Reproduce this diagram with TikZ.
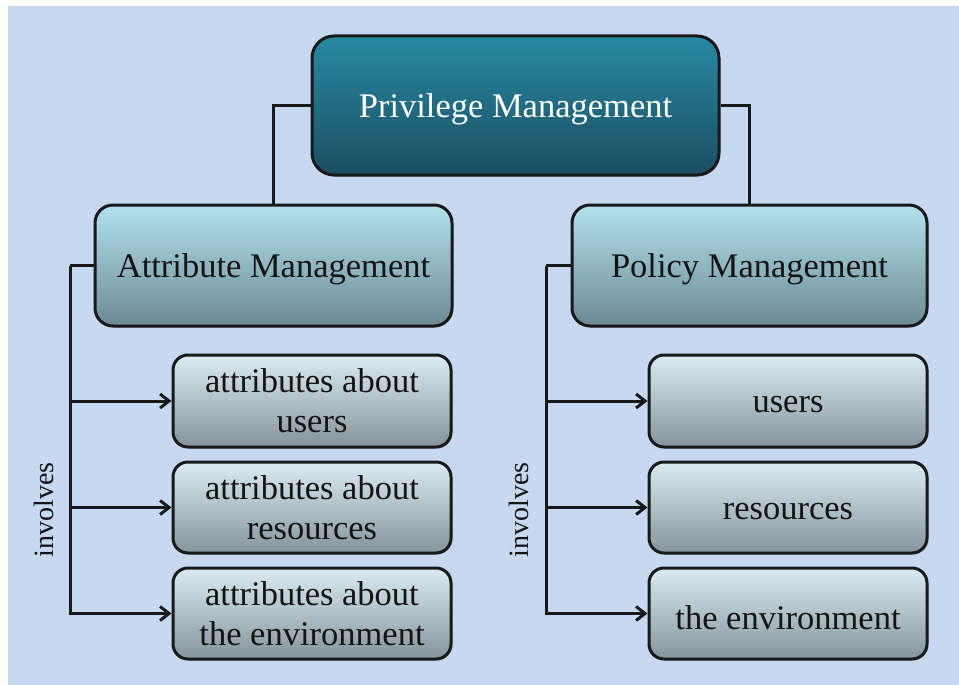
\documentclass[tikz,border=0pt]{standalone}
\usepackage{fontspec}
\setmainfont{Liberation Serif}
\usetikzlibrary{arrows.meta,shadows}
\definecolor{bgblue}{RGB}{198,217,240}
\definecolor{topT}{RGB}{40,137,163}
\definecolor{topB}{RGB}{27,78,98}
\definecolor{midT}{RGB}{178,226,236}
\definecolor{midB}{RGB}{108,138,150}
\definecolor{lowT}{RGB}{218,236,242}
\definecolor{lowB}{RGB}{132,148,154}
\definecolor{txt}{RGB}{20,20,20}
\newcommand\lowrtxt[1]{\raisebox{-4pt}[\height][\depth]{#1}}
\tikzset{
  basebox/.style={draw=black!90, line width=3pt, inner sep=0pt, align=center,
    drop shadow={opacity=0.35, shadow xshift=1.5pt, shadow yshift=-1.5pt},
    font=\fontsize{34.5}{40}\selectfont, text=txt},
  topbox/.style={basebox, rounded corners=22pt, top color=topT, bottom color=topB, text=white},
  midbox/.style={basebox, rounded corners=18pt, top color=midT, bottom color=midB},
  lowbox/.style={basebox, rounded corners=15pt, top color=lowT, bottom color=lowB},
  link/.style={line width=3pt, draw=black!90},
  arr/.style={link, -{Straight Barb[length=9pt,width=14pt]}},
  invtext/.style={rotate=90, font=\fontsize{28}{32}\selectfont, text=txt, inner sep=0pt}
}
\begin{document}
\begin{tikzpicture}[x=1pt,y=-1pt]
\useasboundingbox (0,0) rectangle (959,685);
\fill[bgblue] (8,6) rectangle (959,685);

\node[topbox, minimum width=407, minimum height=139] (pm) at (515.5,105.5) {\lowrtxt{Privilege Management}};
\node[midbox, minimum width=357, minimum height=121] (am) at (273.5,265.5) {\lowrtxt{Attribute Management}};
\node[midbox, minimum width=355, minimum height=121] (pol) at (749.5,265.5) {\lowrtxt{Policy Management}};

\node[lowbox, minimum width=278, minimum height=92] (a1) at (312,401) {attributes about\\users};
\node[lowbox, minimum width=278, minimum height=91] (a2) at (312,507.5) {attributes about\\resources};
\node[lowbox, minimum width=278, minimum height=91] (a3) at (312,613.5) {attributes about\\the environment};

\node[lowbox, minimum width=278, minimum height=92] (p1) at (788,401) {\lowrtxt{users}};
\node[lowbox, minimum width=278, minimum height=91] (p2) at (788,507.5) {\lowrtxt{resources}};
\node[lowbox, minimum width=278, minimum height=91] (p3) at (788,613.5) {\lowrtxt{the environment}};

\draw[link] (pm.west) -| (am.north);
\draw[link] (pm.east) -| (pol.north);

\draw[link] (am.west) -- (70,265.5) coordinate (lk);
\draw[arr] (lk) |- (a1.west);
\draw[arr] (lk) |- (a2.west);
\draw[arr] (lk) |- (a3.west);

\draw[link] (pol.west) -- (546,265.5) coordinate (rk);
\draw[arr] (rk) |- (p1.west);
\draw[arr] (rk) |- (p2.west);
\draw[arr] (rk) |- (p3.west);

\node[invtext] (inv1) at (44,510) {involves};
\node[invtext] (inv2) at (519,510) {involves};
\end{tikzpicture}
\end{document}
